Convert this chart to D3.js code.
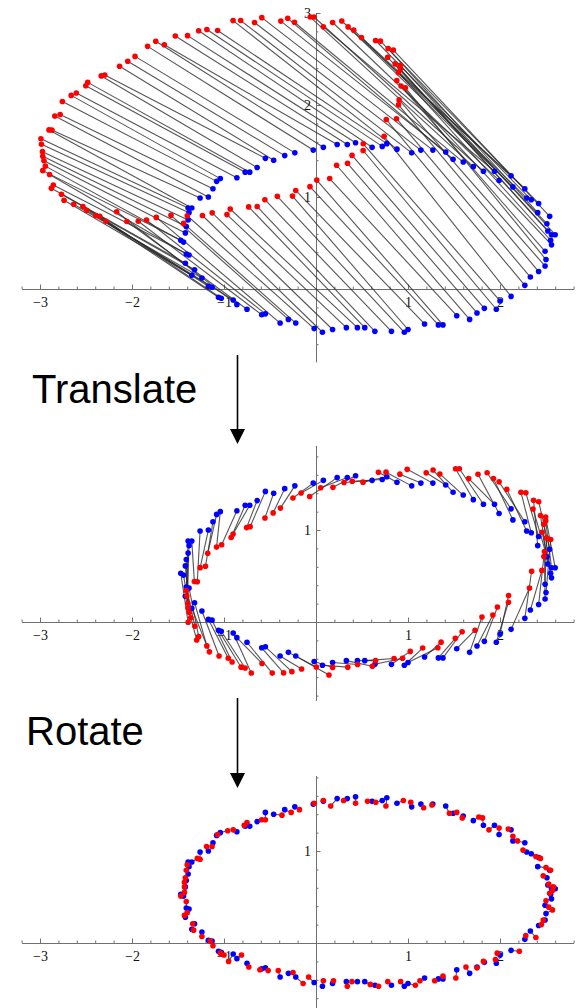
<!DOCTYPE html>
<html>
<head>
<meta charset="utf-8">
<script src="https://cdn.jsdelivr.net/npm/d3@7"></script>
<style>
  html, body { margin: 0; padding: 0; background: #fff; }
  svg { display: block; }
</style>
</head>
<body>
<svg id="fig" width="584" height="1008"></svg>
<script>
// Target cloud (blue), in plot units.
const targetX = [-0.39,-0.30,-0.22,-0.02,0.07,0.18,0.33,0.45,0.53,0.64,
  0.82,0.96,1.00,1.18,1.33,1.38,1.53,1.67,1.75,1.83,
  1.96,2.00,2.12,2.27,2.33,2.42,2.49,2.50,2.49,2.56,
  2.55,2.60,2.56,2.52,2.51,2.54,2.41,2.42,2.34,2.29,
  2.27,2.14,2.12,1.99,1.94,1.82,1.71,1.60,1.49,1.41,
  1.27,1.14,1.04,0.88,0.77,0.72,0.61,0.43,0.34,0.23,
  0.08,-0.03,-0.23,-0.34,-0.46,-0.55,-0.64,-0.72,-0.77,-0.86,
  -1.04,-1.08,-1.12,-1.17,-1.26,-1.35,-1.39,-1.38,-1.39,-1.41,
  -1.42,-1.44,-1.47,-1.41,-1.38,-1.42,-1.32,-1.35,-1.24,-1.17,
  -1.13,-1.06,-1.03,-0.90,-0.86,-0.75,-0.59,-0.55];
const targetY = [-0.37,-0.33,-0.37,-0.43,-0.47,-0.44,-0.42,-0.42,-0.42,-0.46,
  -0.46,-0.47,-0.44,-0.38,-0.39,-0.39,-0.29,-0.33,-0.26,-0.21,
  -0.22,-0.13,-0.08,0.04,0.13,0.19,0.25,0.32,0.41,0.48,
  0.53,0.59,0.59,0.63,0.71,0.79,0.83,0.93,0.97,0.99,
  1.09,1.11,1.23,1.18,1.28,1.28,1.33,1.38,1.41,1.49,
  1.51,1.51,1.48,1.52,1.58,1.55,1.54,1.59,1.57,1.57,
  1.54,1.51,1.48,1.45,1.40,1.42,1.32,1.27,1.27,1.21,
  1.20,1.17,1.09,1.00,0.99,0.88,0.88,0.83,0.75,0.68,
  0.61,0.51,0.53,0.38,0.37,0.28,0.21,0.15,0.12,0.03,
  0.02,-0.09,-0.10,-0.12,-0.17,-0.22,-0.28,-0.27];

// Source cloud (red) in its final, aligned position; index i pairs with target i.
const sourceX = [-0.41,-0.25,-0.14,-0.08,0.08,0.19,0.34,0.39,0.59,0.68,
  0.78,0.92,1.08,1.13,1.29,1.38,1.52,1.63,1.75,1.82,
  1.95,1.97,2.21,2.28,2.39,2.45,2.47,2.57,2.53,2.50,
  2.54,2.58,2.57,2.53,2.47,2.55,2.50,2.44,2.39,2.25,
  2.19,2.14,2.09,1.99,1.88,1.81,1.77,1.59,1.53,1.45,
  1.26,1.17,1.03,0.95,0.76,0.65,0.56,0.43,0.30,0.16,
  0.08,-0.02,-0.18,-0.27,-0.37,-0.55,-0.59,-0.75,-0.78,-0.90,
  -0.96,-1.07,-1.13,-1.19,-1.26,-1.29,-1.40,-1.41,-1.42,-1.43,
  -1.43,-1.43,-1.47,-1.41,-1.40,-1.43,-1.34,-1.33,-1.24,-1.15,
  -1.12,-1.04,-1.00,-0.95,-0.81,-0.73,-0.61,-0.52];
const sourceY = [-0.30,-0.32,-0.44,-0.37,-0.41,-0.41,-0.47,-0.42,-0.45,-0.47,
  -0.42,-0.42,-0.46,-0.41,-0.41,-0.36,-0.38,-0.26,-0.27,-0.20,
  -0.18,-0.11,-0.09,0.08,0.06,0.20,0.25,0.36,0.39,0.46,
  0.54,0.61,0.57,0.64,0.73,0.79,0.82,0.92,0.94,1.01,
  1.11,1.16,1.24,1.25,1.23,1.36,1.37,1.36,1.42,1.41,
  1.50,1.47,1.53,1.55,1.49,1.53,1.54,1.52,1.55,1.49,
  1.55,1.52,1.45,1.42,1.39,1.34,1.34,1.31,1.28,1.23,
  1.22,1.18,1.05,1.05,0.91,0.92,0.85,0.79,0.71,0.66,
  0.61,0.55,0.51,0.45,0.33,0.30,0.21,0.14,0.07,0.02,
  -0.03,-0.11,-0.13,-0.20,-0.13,-0.26,-0.29,-0.30];

// Starting pose of the source cloud: turned about the shared centroid,
// then offset. The figure walks back through Translate and Rotate.
const startTurnDeg = 15;
const startShiftX = -1.58;
const startShiftY = 1.29;

// Tick labels.
const xTickLabels = [-3, -2, -1, 1, 2];
const yTickLabelsTop = [1, 2, 3];
const yTickLabelsLower = [1];

// Step captions.
const stepLabels = ["Translate", "Rotate"];

const svg = d3.select("#fig");

const x = d3.scaleLinear().domain([-3.2, 2.8]).range([21.6, 573.6]);

const cx = d3.mean(targetX), cy = d3.mean(targetY);
const th = startTurnDeg * Math.PI / 180;
const cosT = Math.cos(th), sinT = Math.sin(th);

const aligned = sourceX.map((v, i) => [v, sourceY[i]]);
const turned = aligned.map(([px, py]) => [
  cx + cosT * (px - cx) - sinT * (py - cy),
  cy + sinT * (px - cx) + cosT * (py - cy)
]);
const start = turned.map(([px, py]) => [px + startShiftX, py + startShiftY]);
const targets = targetX.map((v, i) => [v, targetY[i]]);

// Panel layouts: y domain and pixel range for each step.
const panels = [
  { red: start,   yDomain: [-0.79, 3.0],  yRange: [361.7, 13],    yLabels: yTickLabelsTop },
  { red: turned,  yDomain: [-0.85, 1.92], yRange: [700.2, 445.4], yLabels: yTickLabelsLower },
  { red: aligned, yDomain: [-0.75, 1.82], yRange: [1012, 775.6],  yLabels: yTickLabelsLower }
];

function minorTicks(domain) {
  const out = [];
  const lo = Math.ceil(domain[0] * 5 - 1e-9), hi = Math.floor(domain[1] * 5 + 1e-9);
  for (let k = lo; k <= hi; k++) if (k % 5 !== 0) out.push(k / 5);
  return out;
}

const fmt = d3.format("d");

panels.forEach(p => {
  const y = d3.scaleLinear().domain(p.yDomain).range(p.yRange);
  const g = svg.append("g");

  // x axis (ticks point up into the plot, labels below)
  const xMinor = d3.axisBottom(x).tickValues(minorTicks(x.domain())).tickSize(-2.5).tickSizeOuter(0).tickFormat("");
  const xMajor = d3.axisBottom(x).tickValues(xTickLabels).tickSize(-4.5).tickSizeOuter(0).tickPadding(8).tickFormat(fmt);
  const gxm = g.append("g").attr("transform", `translate(0,${y(0)})`).call(xMinor);
  const gx = g.append("g").attr("transform", `translate(0,${y(0)})`).call(xMajor);

  // y axis (ticks point right, labels left)
  const yMinor = d3.axisLeft(y).tickValues(minorTicks(p.yDomain)).tickSize(-2.5).tickSizeOuter(0).tickFormat("");
  const yMajor = d3.axisLeft(y).tickValues(p.yLabels).tickSize(-4.5).tickSizeOuter(0).tickPadding(5).tickFormat(fmt);
  const gym = g.append("g").attr("transform", `translate(${x(0)},0)`).call(yMinor);
  const gy = g.append("g").attr("transform", `translate(${x(0)},0)`).call(yMajor);

  [gxm, gx, gym, gy].forEach(a => {
    a.select(".domain").attr("stroke", "#707070").attr("stroke-width", 1);
    a.selectAll(".tick line").attr("stroke", "#707070").attr("stroke-width", 1);
    a.selectAll(".tick text")
      .attr("fill", "#111")
      .attr("font-family", "'Liberation Serif', 'Times New Roman', serif")
      .attr("font-size", 14);
  });

  // correspondence lines
  g.append("g").selectAll("line").data(p.red).join("line")
    .attr("x1", d => x(d[0])).attr("y1", d => y(d[1]))
    .attr("x2", (d, i) => x(targets[i][0])).attr("y2", (d, i) => y(targets[i][1]))
    .attr("stroke", "#2a2a2a").attr("stroke-opacity", 0.8).attr("stroke-width", 1.1);

  // target points
  g.append("g").selectAll("circle").data(targets).join("circle")
    .attr("cx", d => x(d[0])).attr("cy", d => y(d[1])).attr("r", 2.8)
    .attr("fill", "#0000ff");

  // source points
  g.append("g").selectAll("circle").data(p.red).join("circle")
    .attr("cx", d => x(d[0])).attr("cy", d => y(d[1])).attr("r", 2.8)
    .attr("fill", "#ff0000");
});

// step captions with downward arrows
const steps = [
  { label: stepLabels[0], tx: 32, ty: 403, ay0: 355, ay1: 444 },
  { label: stepLabels[1], tx: 26, ty: 745, ay0: 698, ay1: 788 }
];
steps.forEach(s => {
  svg.append("text").attr("x", s.tx).attr("y", s.ty)
    .attr("font-family", "'Liberation Sans', Arial, Helvetica, sans-serif")
    .attr("font-size", 40).attr("fill", "#000").text(s.label);
  svg.append("line").attr("x1", 237.5).attr("x2", 237.5)
    .attr("y1", s.ay0).attr("y2", s.ay1 - 12)
    .attr("stroke", "#000").attr("stroke-width", 1.6);
  svg.append("path")
    .attr("d", `M${237.5 - 7.5},${s.ay1 - 15} L${237.5 + 7.5},${s.ay1 - 15} L237.5,${s.ay1} Z`)
    .attr("fill", "#000");
});
</script>
</body>
</html>
